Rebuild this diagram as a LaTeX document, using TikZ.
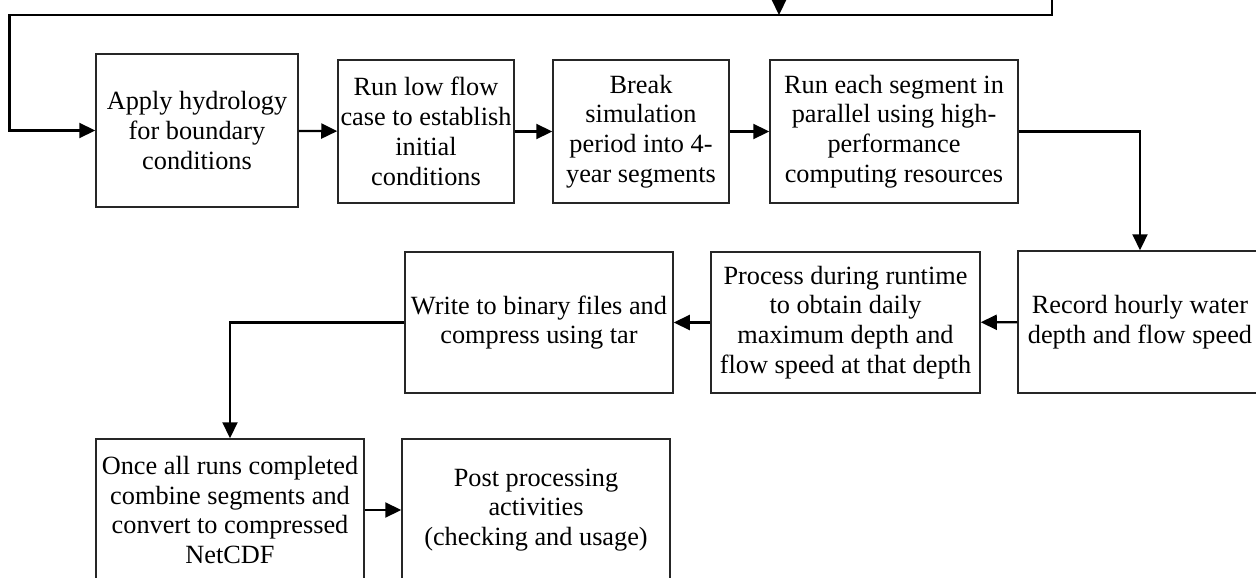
\documentclass[tikz,border=0pt]{standalone}
\usepackage{fontspec}
\setmainfont{Liberation Serif}
\usetikzlibrary{arrows.meta}
\begin{document}
\begin{tikzpicture}[x=1pt,y=-1pt,
  stepbox/.style={draw=black!85, line width=1.5pt, inner sep=0pt, align=center,
    font=\fontsize{26.3}{29.8}\selectfont, text=black},
  conn/.style={line width=2.2pt, draw=black},
  arr/.style={conn, -{Triangle[length=16pt,width=15pt]}}]
\clip (0,0) rectangle (1256,578);
\fill[white] (0,0) rectangle (1256,578);
% boxes
\node[stepbox, minimum width=202pt, minimum height=153pt] (b1) at (197,130.5)
  {Apply hydrology\\for boundary\\conditions};
\node[stepbox, minimum width=176pt, minimum height=143pt] (b2) at (426,131.5)
  {Run low flow\\case to establish\\initial\\conditions};
\node[stepbox, minimum width=176pt, minimum height=143pt] (b3) at (641,131.5)
  {Break\\simulation\\period into 4-\\year segments};
\node[stepbox, minimum width=248pt, minimum height=143pt] (b4) at (894,131.5)
  {Run each segment in\\parallel using high-\\performance\\computing resources};
\node[stepbox, minimum width=244pt, minimum height=142pt] (rec) at (1140,322)
  {Record hourly water\\depth and flow speed};
\node[stepbox, minimum width=269pt, minimum height=141pt] (proc) at (845.5,322.5)
  {Process during runtime\\to obtain daily\\maximum depth and\\flow speed at that depth};
\node[stepbox, minimum width=268pt, minimum height=141pt] (write) at (539,322.5)
  {Write to binary files and\\compress using tar};
\node[stepbox, minimum width=268pt, minimum height=142pt] (once) at (230,510)
  {Once all runs completed\\combine segments and\\convert to compressed\\NetCDF};
\node[stepbox, minimum width=268pt, minimum height=142pt] (post) at (536,510)
  {Post processing\\activities\\(checking and usage)};
% coordinates for the loop at the top
\coordinate (topin) at (779,-20);
\coordinate (topj) at (779,15);
\coordinate (rin) at (1052,-20);
\coordinate (rc) at (1052,15);
\coordinate (lc) at (9.5,15);
% connectors
\draw[arr] (topin) -- (topj);
\draw[arr] (rin) -- (rc) -- (lc) |- (b1.west);
\draw[arr] (b1) -- (b2);
\draw[arr] (b2) -- (b3);
\draw[arr] (b3) -- (b4);
\draw[arr] (b4.east) -| (rec.north);
\draw[arr] (rec) -- (proc);
\draw[arr] (proc) -- (write);
\draw[arr] (write.west) -| (once.north);
\draw[arr] (once) -- (post);
\end{tikzpicture}
\end{document}
